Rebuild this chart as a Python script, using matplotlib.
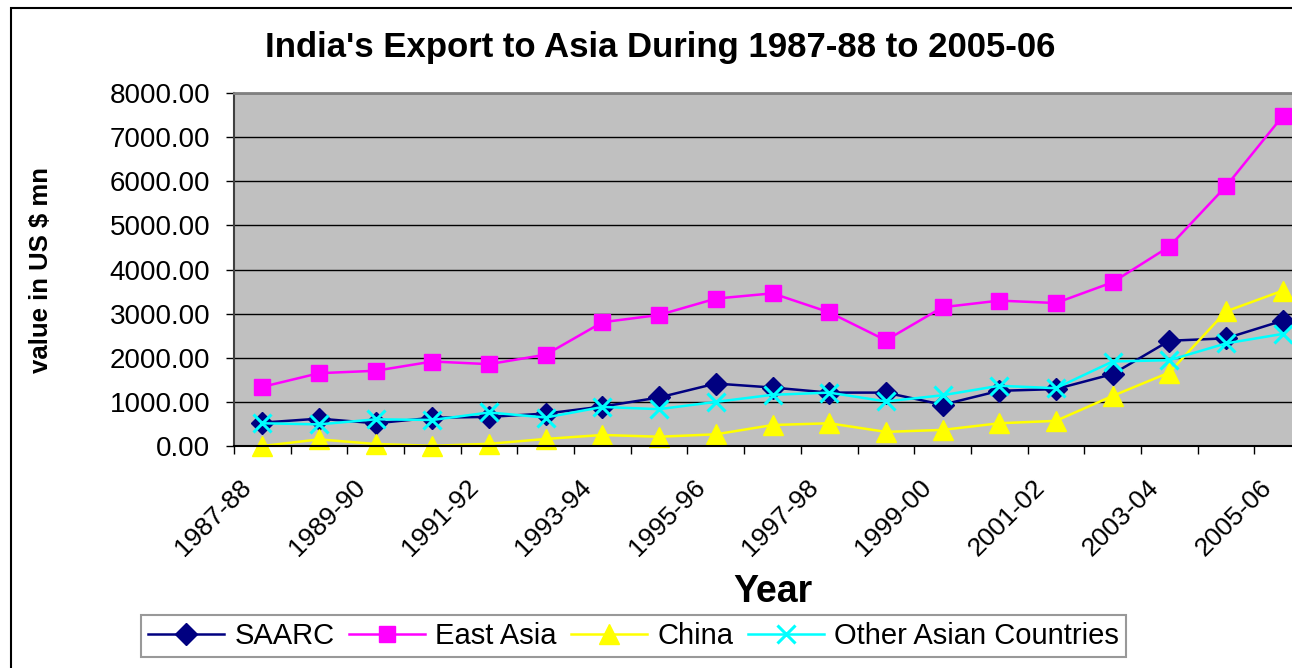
import matplotlib
matplotlib.use("Agg")
import matplotlib.pyplot as plt
import matplotlib.patches as patches
from matplotlib.transforms import ScaledTranslation
import numpy as np

# India's exports to Asia, US $ mn
years = ["1987-88", "1988-89", "1989-90", "1990-91", "1991-92", "1992-93",
         "1993-94", "1994-95", "1995-96", "1996-97", "1997-98", "1998-99",
         "1999-00", "2000-01", "2001-02", "2002-03", "2003-04", "2004-05",
         "2005-06"]
saarc = [530, 620, 515, 640, 660, 735, 895, 1100, 1415, 1325, 1210, 1210,
         935, 1250, 1290, 1630, 2385, 2440, 2840]
east_asia = [1340, 1650, 1705, 1915, 1855, 2070, 2805, 2970, 3340, 3460,
             3030, 2395, 3145, 3295, 3240, 3710, 4520, 5885, 7475]
china = [0, 150, 45, 5, 50, 160, 250, 210, 265, 475, 515, 320, 365, 515,
         570, 1135, 1665, 3050, 3520]
other_asia = [515, 490, 605, 590, 760, 645, 885, 835, 1000, 1160, 1210,
              1010, 1150, 1365, 1310, 1915, 1945, 2325, 2540]

plt.rcParams['font.family'] = ['Liberation Sans', 'DejaVu Sans']

W, H = 1292, 668
fig = plt.figure(figsize=(W / 100, H / 100), dpi=100)

# plot area, the right edge runs a little past the picture like the original
left, right, top, bottom = 234, 1311, 93, 446
ax = fig.add_axes([left / W, 1 - bottom / H, (right - left) / W, (bottom - top) / H])
ax.set_facecolor('#C0C0C0')

x = np.arange(len(years))
ax.plot(x, saarc, color='#000080', lw=1.8, marker='D', ms=11, label='SAARC',
        clip_on=False)
ax.plot(x, east_asia, color='#FF00FF', lw=1.8, marker='s', ms=11,
        label='East Asia', clip_on=False)
ax.plot(x, china, color='#FFFF00', lw=1.8, marker='^', ms=14, label='China',
        clip_on=False)
ax.plot(x, other_asia, color='#00FFFF', lw=1.8, marker='x', ms=13, mew=2.2,
        label='Other Asian Countries', clip_on=False)

ax.set_xlim(-0.5, len(years) - 0.5)
ax.set_ylim(0, 8000)

ax.set_yticks(np.arange(0, 8001, 1000))
ax.set_yticklabels(['%.2f' % v for v in np.arange(0, 8001, 1000)], fontsize=20)
ax.yaxis.grid(True, color='black', lw=1)
ax.set_axisbelow(True)

# tick marks between categories, labels on every other category
ax.set_xticks(np.arange(-0.5, len(years), 1))
ax.set_xticklabels([])
ax.set_xticks(x[::2], minor=True)
ax.set_xticklabels(years[::2], minor=True, rotation=45, ha='right',
                   va='top', rotation_mode='anchor', fontsize=19)
ax.tick_params(axis='x', which='minor', length=0, pad=21)
ax.tick_params(axis='both', which='major', direction='out', length=6,
               width=1, color='black')
ax.tick_params(axis='y', pad=11)
shift = ScaledTranslation(-23 / 100, 0, fig.dpi_scale_trans)
for lab in ax.get_xticklabels(minor=True):
    lab.set_transform(lab.get_transform() + shift)

for s in ['top', 'right']:
    ax.spines[s].set_color('#808080')
    ax.spines[s].set_linewidth(2)
ax.spines['left'].set_color('#404040')
ax.spines['left'].set_linewidth(1.5)
ax.spines['bottom'].set_color('black')
ax.spines['bottom'].set_linewidth(1.5)

fig.text(660 / W, 1 - 48 / H, "India's Export to Asia During 1987-88 to 2005-06",
         ha='center', va='center', fontsize=25, fontweight='bold')
fig.text(41 / W, 1 - 270 / H, 'value in US $ mn', rotation=90,
         ha='center', va='center', fontsize=18.5, fontweight='bold')
fig.text(773 / W, 1 - 592 / H, 'Year', ha='center', va='center',
         fontsize=27, fontweight='bold')

leg = fig.legend(loc='center', bbox_to_anchor=((145 + 1122) / 2 / W, 1 - 636 / H),
                 ncol=4, fontsize=21, frameon=True, fancybox=False,
                 handlelength=2.6, columnspacing=0.5, handletextpad=0.35,
                 borderpad=0.25, borderaxespad=0, edgecolor='#808080')
leg.get_frame().set_linewidth(1.5)

# chart area border
fig.patches.append(patches.Rectangle((11 / W, -0.1), 1.2, (H - 8) / H + 0.1,
                                     transform=fig.transFigure, fill=False,
                                     ec='black', lw=1.5))

fig.savefig('out.png', dpi=100)
